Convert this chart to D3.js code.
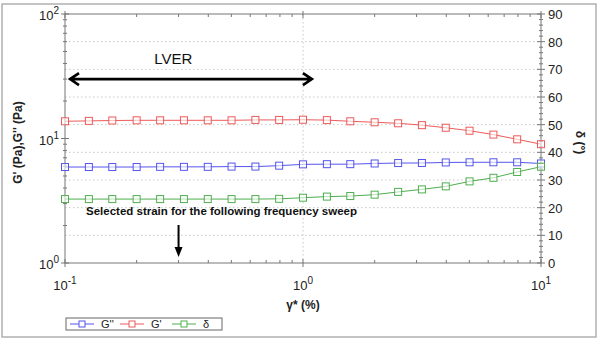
<!DOCTYPE html>
<html><head><meta charset="utf-8">
<script src="https://cdn.jsdelivr.net/npm/d3@7"></script>
<style>
body{margin:0;background:#fff;}
svg{display:block;font-family:"Liberation Sans",Arial,sans-serif;}
</style></head>
<body><svg id="c" width="600" height="340"></svg>
<script>
const strain = [0.1,0.126,0.158,0.2,0.251,0.316,0.398,0.501,0.631,0.794,1,1.26,1.58,2,2.51,3.16,3.98,5.01,6.31,7.94,10];
const gPrime = [13.75,13.85,13.95,14.0,14.0,14.0,14.0,14.0,14.1,14.1,14.15,14.05,13.75,13.5,13.25,12.8,12.2,11.55,10.75,9.85,9.0];
const gDouble = [5.9,5.9,5.9,5.9,5.92,5.92,5.92,5.95,5.95,6.05,6.2,6.22,6.22,6.3,6.35,6.36,6.42,6.44,6.44,6.44,6.3];
const delta = [23.1,23.1,23.1,23.1,23.1,23.1,23.1,23.1,23.1,23.2,23.6,24.0,24.2,24.7,25.7,26.6,27.7,29.5,30.8,32.9,34.8];
const xTickExp = [-1,0,1];
const yTickExp = [0,1,2];
const rightTicks = [0,10,20,30,40,50,60,70,80,90];
const legendItems = ["G''","G'","δ"];
const colors = {"G''":"#5555ee","G'":"#ee5a5a","δ":"#4fae4f"};

const svg = d3.select("#c");
const L=65,R=541,T=14,B=263;
const x = d3.scaleLog().domain([0.1,10]).range([L,R]);
const y = d3.scaleLog().domain([1,100]).range([B,T]);
const y2 = d3.scaleLinear().domain([0,90]).range([B,T]);

// outer frame
svg.append("rect").attr("x",2).attr("y",4).attr("width",594).attr("height",333)
  .attr("fill","none").attr("stroke","#b0b0b0").attr("stroke-width",1.5);

// grid
const g = svg.append("g");
g.selectAll("line.hg").data(rightTicks.slice(1,-1)).join("line")
  .attr("x1",L).attr("x2",R).attr("y1",d=>y2(d)).attr("y2",d=>y2(d))
  .attr("stroke","#c8c8c8").attr("stroke-dasharray","1.5,2.5");
g.append("line").attr("x1",x(1)).attr("x2",x(1)).attr("y1",T).attr("y2",B)
  .attr("stroke","#c8c8c8").attr("stroke-dasharray","1.5,2.5");

// axes box
const axc = "#777";
svg.append("rect").attr("x",L).attr("y",T).attr("width",R-L).attr("height",B-T)
  .attr("fill","none").attr("stroke",axc).attr("stroke-width",1);

// minor ticks
const minorX = [], minorY = [];
[0.1,1].forEach(b=>{for(let i=2;i<=9;i++) minorX.push(b*i);});
[1,10].forEach(b=>{for(let i=2;i<=9;i++) minorY.push(b*i);});
const tk = svg.append("g").attr("stroke",axc).attr("stroke-width",1);
minorX.forEach(v=>{
  tk.append("line").attr("x1",x(v)).attr("x2",x(v)).attr("y1",B-3).attr("y2",B);
  tk.append("line").attr("x1",x(v)).attr("x2",x(v)).attr("y1",T).attr("y2",T+3);
});
xTickExp.forEach(e=>{
  const v=Math.pow(10,e);
  tk.append("line").attr("x1",x(v)).attr("x2",x(v)).attr("y1",B-4).attr("y2",B+4);
  tk.append("line").attr("x1",x(v)).attr("x2",x(v)).attr("y1",T-3).attr("y2",T+4);
});
minorY.forEach(v=>{
  tk.append("line").attr("x1",L-2).attr("x2",L+2).attr("y1",y(v)).attr("y2",y(v));
});
yTickExp.forEach(e=>{
  const v=Math.pow(10,e);
  tk.append("line").attr("x1",L-4).attr("x2",L+4).attr("y1",y(v)).attr("y2",y(v));
});
for(let d=0; d<=90; d+=2){
  const big = d%10===0;
  tk.append("line").attr("x1",R-(big?4:2)).attr("x2",R+(big?4:2)).attr("y1",y2(d)).attr("y2",y2(d));
}

// tick labels
const txtc="#222";
function powLabel(sel, e, anchor){
  const t = sel.append("text").attr("fill",txtc).attr("font-size",13).attr("text-anchor",anchor);
  t.append("tspan").text("10");
  t.append("tspan").attr("dy",-6).attr("font-size",10).text(String(e));
  return t;
}
yTickExp.forEach(e=>{
  powLabel(svg,e,"end").attr("x",L-6).attr("y",y(Math.pow(10,e))+6);
});
xTickExp.forEach(e=>{
  powLabel(svg,e,"middle").attr("x",x(Math.pow(10,e))).attr("y",B+27);
});
svg.selectAll("text.rt").data(rightTicks).join("text")
  .attr("x",R+7).attr("y",d=>y2(d)+5).attr("font-size",13).attr("fill",txtc).text(d=>d);

// axis titles
svg.append("text").attr("transform",`translate(22,${(T+B)/2+4}) rotate(-90)`)
  .attr("text-anchor","middle").attr("font-size",12).attr("font-weight","bold").attr("fill",txtc)
  .text("G' (Pa),G'' (Pa)");
svg.append("text").attr("transform",`translate(576,${(T+B)/2+4}) rotate(90)`)
  .attr("text-anchor","middle").attr("font-size",12).attr("font-weight","bold").attr("fill",txtc)
  .text("δ (°)");
svg.append("text").attr("x",(L+R)/2).attr("y",309).attr("text-anchor","middle")
  .attr("font-size",12).attr("font-weight","bold").attr("fill",txtc).text("γ* (%)");

// series
const series = [
  {name:"G''", vals:gDouble, sc:y},
  {name:"G'", vals:gPrime, sc:y},
  {name:"δ", vals:delta, sc:y2}
];
series.forEach(s=>{
  const pts = strain.map((v,i)=>[x(v), s.sc(s.vals[i])]);
  svg.append("path").attr("d",d3.line()(pts)).attr("fill","none")
    .attr("stroke",colors[s.name]).attr("stroke-width",1);
  svg.append("g").selectAll("rect").data(pts).join("rect")
    .attr("x",d=>d[0]-3.5).attr("y",d=>d[1]-3.5).attr("width",7).attr("height",7)
    .attr("fill","#fff").attr("fill-opacity",0.6).attr("stroke",colors[s.name]).attr("stroke-width",1);
});

// LVER annotation
const ay = y(30), ax1 = x(0.1)+5, ax2 = x(1.09);
svg.append("path").attr("d",`M${ax1},${ay}H${ax2}M${ax1+9},${ay-6}L${ax1},${ay}L${ax1+9},${ay+6}M${ax2-9},${ay-6}L${ax2},${ay}L${ax2-9},${ay+6}`)
  .attr("fill","none").attr("stroke","#000").attr("stroke-width",2.6).attr("stroke-linejoin","miter");
svg.append("text").attr("x",x(0.285)).attr("y",y(40)).attr("text-anchor","middle")
  .attr("font-size",15).attr("fill","#111").text("LVER");

// Selected strain annotation
svg.append("text").attr("x",x(0.1)+21).attr("y",y2(17.5)).attr("font-size",11.5)
  .attr("font-weight","bold").attr("fill","#111").text("Selected strain for the following frequency sweep");
const sx = x(0.3);
svg.append("line").attr("x1",sx).attr("x2",sx).attr("y1",225).attr("y2",249)
  .attr("stroke","#000").attr("stroke-width",2);
svg.append("path").attr("d",`M${sx-4},${247}L${sx+4},${247}L${sx},${257}Z`).attr("fill","#000");

// legend
const lg = svg.append("g");
lg.append("rect").attr("x",66).attr("y",318).attr("width",156).attr("height",12)
  .attr("fill","#fff").attr("stroke","#666").attr("stroke-width",1);
const lx = [70,120,172];
legendItems.forEach((n,i)=>{
  const x0 = lx[i];
  lg.append("line").attr("x1",x0).attr("x2",x0+24).attr("y1",324).attr("y2",324).attr("stroke",colors[n]);
  lg.append("rect").attr("x",x0+9).attr("y",321).attr("width",6).attr("height",6)
    .attr("fill","#fff").attr("stroke",colors[n]);
  lg.append("text").attr("x",x0+31).attr("y",328).attr("font-size",11).attr("fill",txtc).text(n);
});
</script></body></html>
